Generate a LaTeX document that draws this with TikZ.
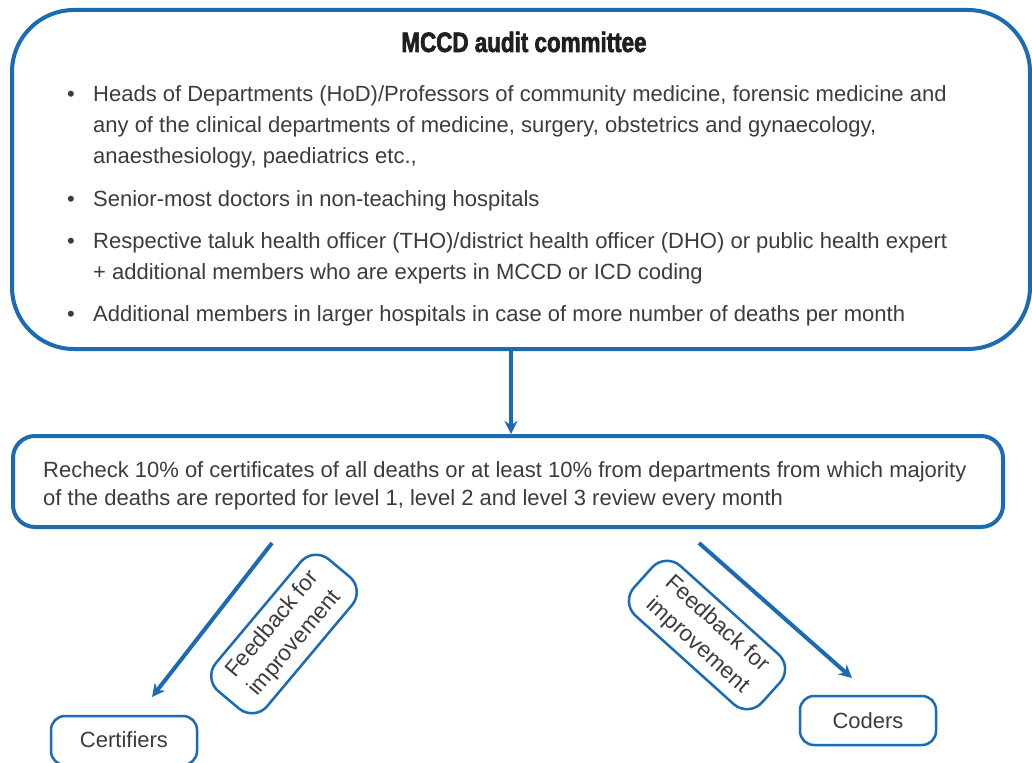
\documentclass[tikz,border=0pt]{standalone}
\usepackage{fontspec}
\setmainfont{Liberation Sans}
\newfontfamily\titlefont[FakeStretch=0.8,BoldFeatures={FakeBold=2.2}]{Liberation Sans}
\usetikzlibrary{arrows.meta,calc}
\definecolor{mblue}{HTML}{1B6BB4}
\definecolor{mtext}{HTML}{3C3C3C}
\begin{document}
\begin{tikzpicture}[x=1pt,y=-1pt,
  font=\fontsize{22}{31}\selectfont, text=mtext,
  bigbox/.style={draw=mblue, line width=4pt, inner sep=0pt},
  smallbox/.style={draw=mblue, line width=2.5pt, rounded corners=14pt, inner sep=0pt},
  fbbox/.style={draw=mblue, line width=2.5pt, rounded corners=20pt, align=center,
    minimum width=172pt, minimum height=67pt, inner sep=0pt, font=\fontsize{22.5}{29}\selectfont},
  txt/.style={anchor=base west, inner sep=0pt},
  bul/.style={anchor=base, inner sep=0pt},
  arr/.style={draw=mblue, line width=4pt, -{Stealth[length=13pt,width=13pt]}}
]
\clip (0,0) rectangle (1032,762);
\fill[white] (0,0) rectangle (1032,762);

% top box
\node[bigbox, rounded corners=62pt, minimum width=1018pt, minimum height=339pt] (top) at (521,179.5) {};
\node[anchor=base, inner sep=0pt, font=\titlefont\bfseries\fontsize{28}{30}\selectfont, text=black!88] (title) at (524,52) {MCCD audit committee};

\node[bul] (b1) at (71,102) {•};
\node[txt] (l1) at (93,102) {Heads of Departments (HoD)/Professors of community medicine, forensic medicine and};
\node[txt] (l2) at (93,133) {any of the clinical departments of medicine, surgery, obstetrics and gynaecology,};
\node[txt] (l3) at (93,164) {anaesthesiology, paediatrics etc.,};
\node[bul] (b2) at (71,206) {•};
\node[txt] (l4) at (93,206) {Senior-most doctors in non-teaching hospitals};
\node[bul] (b3) at (71,248) {•};
\node[txt] (l5) at (93,248) {Respective taluk health officer (THO)/district health officer (DHO) or public health expert};
\node[txt] (l6) at (93,279) {+ additional members who are experts in MCCD or ICD coding};
\node[bul] (b4) at (71,321) {•};
\node[txt] (l7) at (93,321) {Additional members in larger hospitals in case of more number of deaths per month};

% second box
\node[bigbox, rounded corners=22pt, minimum width=990pt, minimum height=91pt] (rech) at (508,481.5) {};
\node[txt] (r1) at (43,477) {Recheck 10\% of certificates of all deaths or at least 10\% from departments from which majority};
\node[txt] (r2) at (43,505) {of the deaths are reported for level 1, level 2 and level 3 review every month};

\draw[arr] (top.south -| 511,0) -- (rech.north -| 511,0);

% bottom boxes
\node[smallbox, minimum width=146pt, minimum height=49pt] (cert) at (124,740.5) {};
\node[txt, anchor=base] (certt) at (cert.center |- 0,747) {Certifiers};
\node[smallbox, minimum width=136pt, minimum height=49pt] (cod) at (868,720.5) {};
\node[txt, anchor=base] (codt) at (cod.center |- 0,728) {Coders};

% feedback labels
\node[fbbox, rotate=50] (fb1) at (284,634) {Feedback for\\improvement};
\node[fbbox, rotate=-42] (fb2) at (707,635) {Feedback for\\improvement};

% diagonal arrows
\coordinate (a1s) at (272,543);
\coordinate (a1e) at (152,697);
\coordinate (a2s) at (699,543);
\coordinate (a2e) at (852,678);
\draw[arr] (a1s) -- (a1e);
\draw[arr] (a2s) -- (a2e);
\end{tikzpicture}
\end{document}
